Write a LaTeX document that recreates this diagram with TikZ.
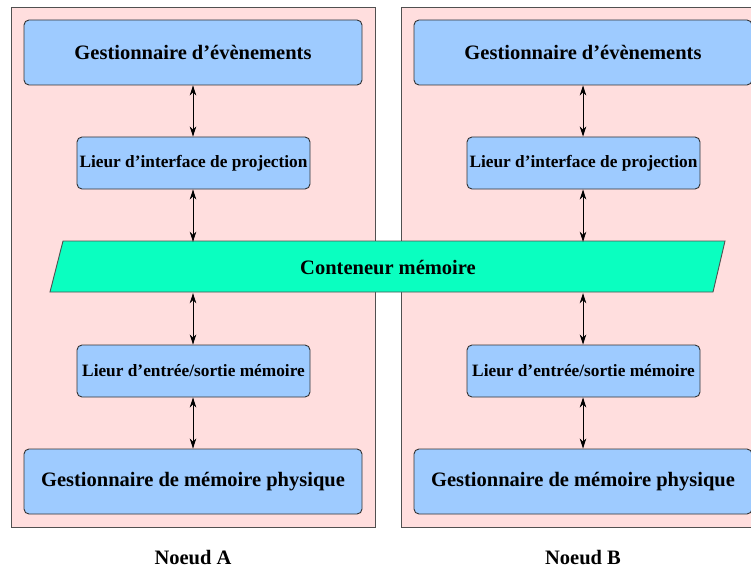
\documentclass[tikz,border=0pt]{standalone}
\usepackage{fontspec}
\setmainfont{Liberation Serif}
\usetikzlibrary{arrows.meta}
\definecolor{panelpink}{RGB}{255,222,222}
\definecolor{boxblue}{RGB}{158,203,255}
\definecolor{memgreen}{RGB}{10,255,192}
\definecolor{edgegray}{RGB}{80,80,80}
\tikzset{
  panel/.style={draw=edgegray, fill=panelpink, line width=0.9pt},
  bigbox/.style={draw=black!80, fill=boxblue, rounded corners=5pt, line width=0.9pt,
    minimum width=338pt, minimum height=65pt, inner sep=0pt,
    font=\fontsize{20.5}{24}\selectfont\bfseries},
  smallbox/.style={draw=black!80, fill=boxblue, rounded corners=5pt, line width=0.9pt,
    minimum width=233pt, minimum height=52pt, inner sep=0pt,
    font=\fontsize{17.3}{20}\selectfont\bfseries},
  link/.style={line width=0.8pt, {Stealth[length=10pt,width=6.5pt,inset=3pt]}-{Stealth[length=10pt,width=6.5pt,inset=3pt]}},
  caption/.style={font=\fontsize{20.5}{24}\selectfont\bfseries, inner sep=0pt}
}
\begin{document}
\begin{tikzpicture}[x=1pt,y=-1pt]
\useasboundingbox (0,0) rectangle (751,572);
\clip (0,0) rectangle (751,572);
% node panels
\draw[panel] (11,7) rectangle (375,527);
\draw[panel] (401,7) rectangle (765,527);
% shared memory container
\path[draw=edgegray, fill=memgreen, line width=0.9pt]
  (50,292) -- (63,241) -- (725,241) -- (713,292) -- cycle;
\node[minimum height=51pt, minimum width=640pt, inner sep=0pt,
  font=\fontsize{20.5}{24}\selectfont\bfseries] (mem) at (388,267.5) {Conteneur mémoire};
% node A
\node[bigbox] (a1) at (193,52.5) {Gestionnaire d’évènements};
\node[smallbox] (a2) at (193.5,163) {Lieur d’interface de projection};
\node[smallbox] (a3) at (193.5,371) {Lieur d’entrée/sortie mémoire};
\node[bigbox] (a4) at (193,481.5) {Gestionnaire de mémoire physique};
% node B
\node[bigbox] (b1) at (583,52.5) {Gestionnaire d’évènements};
\node[smallbox] (b2) at (583.5,163) {Lieur d’interface de projection};
\node[smallbox] (b3) at (583.5,371) {Lieur d’entrée/sortie mémoire};
\node[bigbox] (b4) at (583,481.5) {Gestionnaire de mémoire physique};
% links
\draw[link] (a1.south) -- (a1.south |- a2.north);
\draw[link] (a1.south |- a2.south) -- (a1.south |- mem.north);
\draw[link] (a1.south |- mem.south) -- (a1.south |- a3.north);
\draw[link] (a1.south |- a3.south) -- (a4.north);
\draw[link] (b1.south) -- (b1.south |- b2.north);
\draw[link] (b1.south |- b2.south) -- (b1.south |- mem.north);
\draw[link] (b1.south |- mem.south) -- (b1.south |- b3.north);
\draw[link] (b1.south |- b3.south) -- (b4.north);
% captions
\node[caption] (capA) at (193,558) {Noeud A};
\node[caption] (capB) at (583,558) {Noeud B};
\end{tikzpicture}
\end{document}
